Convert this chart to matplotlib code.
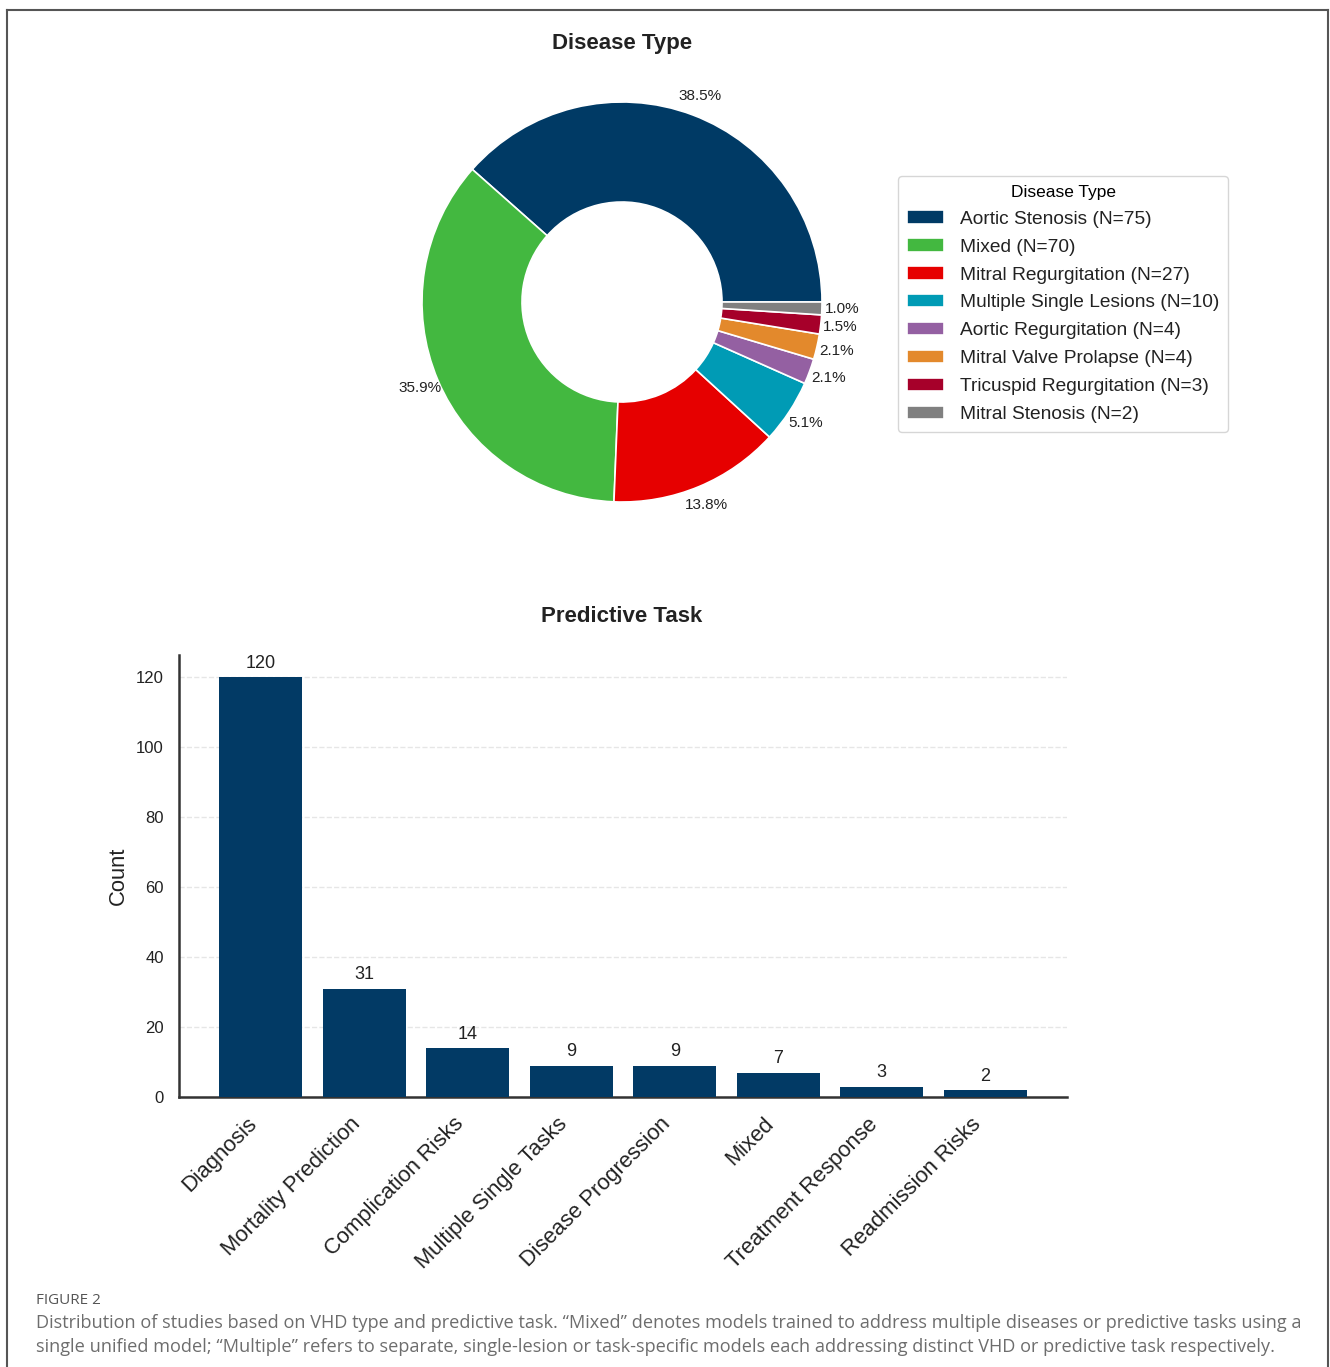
import matplotlib.pyplot as plt
from matplotlib.lines import Line2D

plt.rcParams['font.family'] = ['Liberation Sans', 'DejaVu Sans']

# Disease type counts
disease_types = ["Aortic Stenosis", "Mixed", "Mitral Regurgitation", "Multiple Single Lesions",
                 "Aortic Regurgitation", "Mitral Valve Prolapse", "Tricuspid Regurgitation",
                 "Mitral Stenosis"]
disease_counts = [75, 70, 27, 10, 4, 4, 3, 2]
disease_colors = ["#003A65", "#43B840", "#E60000", "#009BB5", "#9460A2", "#E3892C",
                  "#A6002A", "#808080"]

# Predictive task counts
tasks = ["Diagnosis", "Mortality Prediction", "Complication Risks", "Multiple Single Tasks",
         "Disease Progression", "Mixed", "Treatment Response", "Readmission Risks"]
task_counts = [120, 31, 14, 9, 9, 7, 3, 2]
bar_color = "#023A65"

W, H = 1330, 1367
fig = plt.figure(figsize=(W / 100, H / 100), dpi=100)

# outer frame
for xs, ys in [([7, 7], [H, 10]), ([7, 1328], [10, 10]), ([1328, 1328], [10, H])]:
    fig.add_artist(Line2D([x / W for x in xs], [1 - y / H for y in ys],
                          color="#555555", lw=1.5, transform=fig.transFigure))

# donut chart
cx, cy, r = 622, 302, 200
half = 1.3 * r
ax1 = fig.add_axes([(cx - half) / W, (H - cy - half) / H, 2 * half / W, 2 * half / H])
wedges, texts, autotexts = ax1.pie(
    disease_counts, colors=disease_colors, startangle=0, counterclock=True,
    autopct="%1.1f%%", pctdistance=1.1,
    wedgeprops=dict(width=0.5, edgecolor="white", linewidth=1.2),
    textprops=dict(fontsize=11, color="#222222"))
ax1.set_xlim(-1.3, 1.3)
ax1.set_ylim(-1.3, 1.3)
ax1.set_aspect("equal")
fig.text(cx / W, 1 - 43 / H, "Disease Type", ha="center", va="center",
         fontsize=16, fontweight="bold", color="#222222")

labels = [f"{n} (N={c})" for n, c in zip(disease_types, disease_counts)]
leg = fig.legend(wedges, labels, title="Disease Type", loc="upper left",
                 bbox_to_anchor=(898 / W, 1 - 176 / H), borderaxespad=0,
                 fontsize=13.8, title_fontsize=12.5,
                 frameon=True, handlelength=1.95, handleheight=0.7, labelspacing=0.55,
                 borderpad=0.45, handletextpad=0.85)
leg.get_frame().set_edgecolor("#CCCCCC")
for t in leg.get_texts():
    t.set_color("#222222")

# bar chart
ax2 = fig.add_axes([179 / W, 270 / H, (1067 - 179) / W, (1097 - 655) / H])
x = range(len(tasks))
bars = ax2.bar(x, task_counts, width=0.8, color=bar_color, zorder=3)
for b, v in zip(bars, task_counts):
    ax2.text(b.get_x() + b.get_width() / 2, v + 1.5, str(v), ha="center", va="bottom",
             fontsize=13, color="#222222")
ax2.set_ylim(0, 126.3)
ax2.set_yticks(range(0, 121, 20))
ax2.set_xticks(list(x))
ax2.set_xticklabels(tasks, rotation=45, ha="right", fontsize=15.8, color="#222222")
ax2.tick_params(axis="y", labelsize=12, colors="#222222", length=0, pad=11)
ax2.tick_params(axis="x", length=0, pad=12)
ax2.grid(axis="y", linestyle="--", color="#E6E6E6", linewidth=1, zorder=0)
for side in ["top", "right"]:
    ax2.spines[side].set_visible(False)
for side in ["left", "bottom"]:
    ax2.spines[side].set_color("#333333")
    ax2.spines[side].set_linewidth(1.8)
ax2.set_ylabel("Count", fontsize=15.8, color="#222222", labelpad=5)
fig.text(622 / W, 1 - 617 / H, "Predictive Task", ha="center", va="center",
         fontsize=16, fontweight="bold", color="#222222")

# caption
fig.text(36 / W, 1 - 1300 / H, "FIGURE 2", ha="left", va="center", fontsize=11,
         color="#555555", family=["Open Sans", "DejaVu Sans"])
fig.text(36 / W, 1 - 1323 / H,
         "Distribution of studies based on VHD type and predictive task. \u201cMixed\u201d denotes "
         "models trained to address multiple diseases or predictive tasks using a",
         ha="left", va="center", fontsize=13.1, color="#6D6D6D",
         family=["Open Sans", "DejaVu Sans"])
fig.text(36 / W, 1 - 1347 / H,
         "single unified model; \u201cMultiple\u201d refers to separate, single-lesion or "
         "task-specific models each addressing distinct VHD or predictive task respectively.",
         ha="left", va="center", fontsize=13.1, color="#6D6D6D",
         family=["Open Sans", "DejaVu Sans"])

fig.savefig("out.png", dpi=100)
